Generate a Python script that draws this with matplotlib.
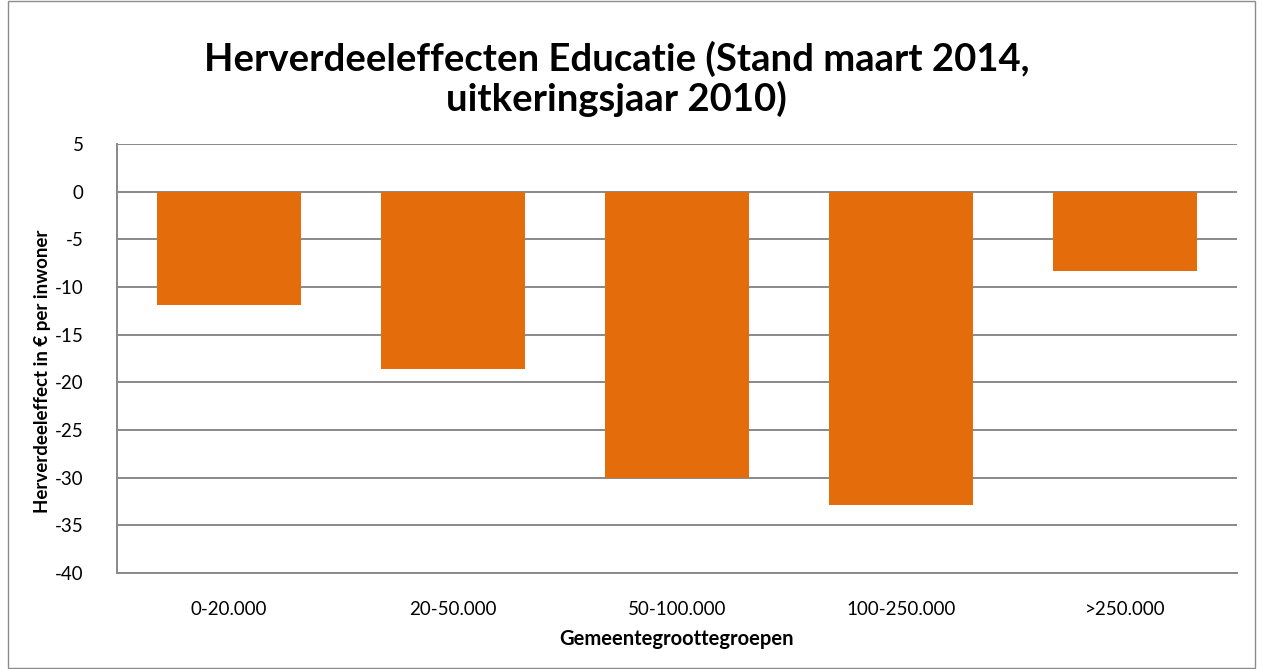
import matplotlib.pyplot as plt
from matplotlib.patches import Rectangle

categories = ["0-20.000", "20-50.000", "50-100.000", "100-250.000", ">250.000"]
values = [-11.9, -18.6, -30.0, -32.9, -8.3]
yticks = [5, 0, -5, -10, -15, -20, -25, -30, -35, -40]

plt.rcParams["font.family"] = ["Lato", "DejaVu Sans"]

fig = plt.figure(figsize=(12.63, 6.69), dpi=100)
# light border round the whole chart
fig.patches.append(Rectangle((0.006, 0.002), 0.988, 0.996, transform=fig.transFigure,
                             fill=False, edgecolor="#8c8c8c", linewidth=1))

ax = fig.add_axes([0.0926, 0.1435, 0.8868, 0.6413])
ax.bar(range(len(categories)), values, width=0.645, color="#E46C0A", zorder=3)

ax.set_xlim(-0.5, len(categories) - 0.5)
ax.set_ylim(-40, 5)
ax.set_yticks(yticks)
ax.set_yticklabels([str(t) for t in yticks], fontsize=13.5)
ax.set_xticks(range(len(categories)))
ax.set_xticklabels(categories, fontsize=13.5)
ax.tick_params(axis="both", length=0)
ax.tick_params(axis="x", pad=20)
ax.tick_params(axis="y", pad=24)
ax.grid(axis="y", color="#898989", linewidth=1.4, zorder=0)

for side in ["top", "right"]:
    ax.spines[side].set_visible(False)
ax.spines["left"].set_color("#898989")
ax.spines["left"].set_linewidth(1.4)
ax.spines["bottom"].set_color("#898989")
ax.spines["bottom"].set_linewidth(1.4)

ax.set_xlabel("Gemeentegroottegroepen", fontsize=14.5, fontweight="bold", labelpad=8)
ax.set_ylabel("Herverdeeleffect in € per inwoner", fontsize=13.5, fontweight="bold")
ax.yaxis.set_label_coords(-0.059, 0.47)

fig.text(0.488, 0.882, "Herverdeeleffecten Educatie (Stand maart 2014,\nuitkeringsjaar 2010)",
         ha="center", va="center", fontsize=27.5, fontweight="bold", linespacing=1.15)

fig.savefig("out.png", dpi=100, facecolor="white")
